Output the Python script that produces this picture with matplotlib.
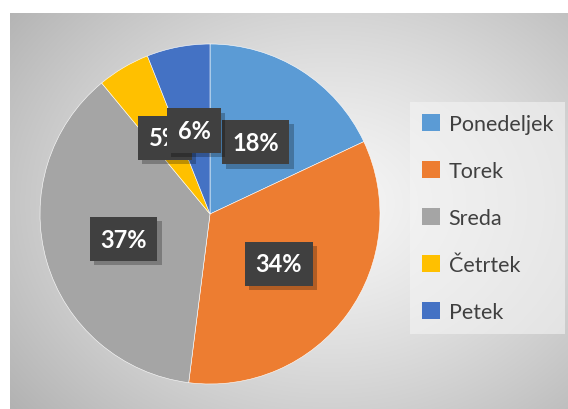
import numpy as np
import matplotlib
matplotlib.use("Agg")
import matplotlib.pyplot as plt
from matplotlib.patches import Patch
import matplotlib.patheffects as pe

days = ["Ponedeljek", "Torek", "Sreda", "Četrtek", "Petek"]
shares = [18, 34, 37, 5, 6]
colors = ["#5B9BD5", "#ED7D31", "#A5A5A5", "#FFC000", "#4472C4"]

W, H = 568, 410
fig = plt.figure(figsize=(W / 100, H / 100), dpi=100)
fig.patch.set_facecolor("white")

# gradient panel behind everything
bg = fig.add_axes([10 / W, 0, 558 / W, 396 / H])
bg.set_axis_off()
yy, xx = np.mgrid[0:396, 0:558]
d = np.sqrt(((xx - 320) / 330.0) ** 2 + ((yy - 190) / 260.0) ** 2)
grey = 0.965 - 0.2 * np.clip(d, 0, 1.3) ** 1.3
bg.imshow(np.dstack([grey, grey, grey]), aspect="auto", extent=[0, 1, 0, 1],
          vmin=0, vmax=1)
bg.set_xlim(0, 1)
bg.set_ylim(0, 1)

# pie
ax = fig.add_axes([40 / W, 25 / H, 340 / W, 340 / H])
wedges, _ = ax.pie(shares, colors=colors, startangle=90, counterclock=False,
                   radius=1, wedgeprops=dict(edgecolor="white", linewidth=0.4))
ax.set_xlim(-1, 1)
ax.set_ylim(-1, 1)
ax.set_aspect("equal")

# percentage labels in dark boxes
start = 90.0
dist = [0.5, 0.5, 0.53, 0.52, 0.5]
for i, v in enumerate(shares):
    mid = start - v * 3.6 / 2
    start -= v * 3.6
    r = dist[i]
    x, y = r * np.cos(np.radians(mid)), r * np.sin(np.radians(mid))
    t = ax.text(x, y, f"{v}%", ha="center", va="center", color="white",
                fontsize=17, fontweight="bold", family="Lato",
                zorder=5 + (1 if i == 4 else 0),
                bbox=dict(boxstyle="square,pad=0.45", fc="#404040", ec="none"))
    t.get_bbox_patch().set_path_effects(
        [pe.SimplePatchShadow(offset=(3, -3), shadow_rgbFace="#000000", alpha=0.25),
         pe.Normal()])

# legend panel
handles = [Patch(facecolor=c, edgecolor="none") for c in colors]
leg = fig.legend(handles, days, loc="upper left",
                 bbox_to_anchor=(410 / W, 1 - 103 / H),
                 frameon=True, fancybox=False, framealpha=0.6,
                 prop=dict(family="Lato", size=15.5),
                 handlelength=0.85, handleheight=0.85, handletextpad=0.4,
                 labelspacing=1.25, borderpad=0.55, borderaxespad=0)
leg.get_frame().set_facecolor("#f4f4f4")
leg.get_frame().set_edgecolor("none")
for txt in leg.get_texts():
    txt.set_color("#404040")

fig.savefig("out.png", dpi=100)
